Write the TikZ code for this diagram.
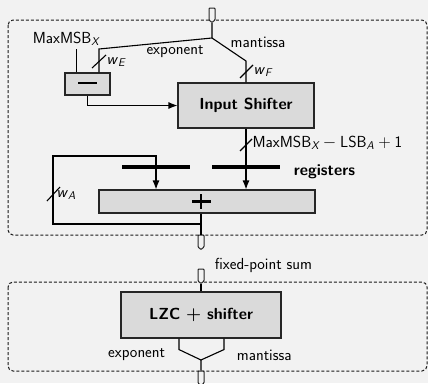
\documentclass[tikz,border=0pt]{standalone}
\usepackage{amsmath}
\usetikzlibrary{arrows.meta,shapes.symbols}

\begin{document}
\begin{tikzpicture}[
x=1pt, y=-1pt,
line width=1.1pt,
every node/.style={font=\sffamily\fontsize{16}{19}\selectfont},
boldtxt/.style={font=\sffamily\bfseries\boldmath\fontsize{16}{19}\selectfont},
blk/.style={draw=black!85, fill=boxgray, inner sep=0pt},
frame/.style={draw=black!90, line width=1pt, dash pattern=on 3pt off 2pt, rounded corners=5pt},
port/.style={draw=black!85, fill=bggray, shape=signal, signal to=south, signal pointer angle=100,
  minimum width=6pt, minimum height=12pt, inner sep=0pt, line width=1pt, rounded corners=0.8pt},
reg/.style={fill=black, minimum width=68pt, minimum height=4.5pt, inner sep=0pt},
arr/.style={-{Latex[length=9pt,width=7pt]}},
sym/.style={line width=2.8pt}
]
\definecolor{bggray}{RGB}{242,242,242}
\definecolor{boxgray}{RGB}{218,218,218}

\path[use as bounding box, fill=bggray] (0,0) rectangle (428,383);
\draw[frame] (8,20) rectangle (427,235);
\draw[frame] (8,282) rectangle (427,371);

\node[port] (inp) at (212,14) {};
\coordinate (split) at (212,38);
\coordinate (ebend) at (99,49);
\coordinate (mbend) at (246,61);
\node[blk, minimum width=45pt, minimum height=22pt] (sub) at (87.5,84) {};
\draw[sym] (78,83) -- (97,83);
\node[blk, boldtxt, minimum width=136pt, minimum height=45pt] (shift) at (246,105.5) {Input Shifter};
\node (maxmsb) at (66,39) {MaxMSB$_{\textit{X}}$};

\draw (inp.south) -- (split) -- (ebend) -- (ebend |- sub.north);
\draw (split) -- (mbend) -- (mbend |- shift.north);
\draw ([xshift=12pt]sub.north west) -- ++(0,-23);
\node (explbl) at (175,52) {exponent};
\node (manlbl) at (258,42) {mantissa};
\draw (92,68) -- (106,55);
\node[anchor=west, inner sep=1pt] (we) at (105,62) {\textit{w}$_{\textit{E}}$};
\draw (240,78) -- (253,65);
\node[anchor=west, inner sep=1pt] (wf) at (252,72) {\textit{w}$_{\textit{F}}$};
\draw[arr] (sub.south) |- (shift.west);

\node[blk, minimum width=216pt, minimum height=23pt] (add) at (207,201.5) {};
\coordinate (plusc) at (201,201.5);
\draw[sym] (192,201.5) -- (211,201.5) (201,194) -- (201,209);
\node[reg] (rega) at (156,167) {};
\node[reg] (regb) at (246,167) {};
\node[boldtxt, anchor=west] (reglbl) at (290,172) {registers};

\draw[arr] (shift.south) -- (shift.south |- add.north);
\draw (240,151) -- (252,139);
\node[anchor=west, inner sep=1pt] (wsum) at (251,143) {MaxMSB$_{\textit{X}}-{}$LSB$_{\textit{A}}+{}$1};

\node[port] (sumout) at (201,241) {};
\coordinate (fb) at (201,224);
\coordinate (fbtop) at (53,156);
\draw (plusc |- add.south) -- (sumout.north);
\draw[arr] (fb) -| (fbtop) -| (rega.center |- add.north);
\draw (47,201) -- (60,187);
\node[anchor=west, inner sep=1pt] (wa) at (55,195) {\textit{w}$_{\textit{A}}$};

\node[port] (sumin) at (201,275) {};
\node[anchor=west] (sumlbl) at (211,265) {fixed-point sum};
\node[blk, boldtxt, minimum width=160pt, minimum height=46pt] (lzc) at (201,315) {LZC $+$ shifter};
\draw (sumin.south) -- (lzc.north);
\coordinate (merge) at (201,360);
\node[port] (outp) at (201,377) {};
\draw ([xshift=-22pt]lzc.south) -- ++(0,11) -- (merge) -- (outp.north);
\draw ([xshift=23pt]lzc.south) -- ++(0,11) -- (merge);
\node[anchor=east] (lzcexp) at (169,355) {exponent};
\node[anchor=west] (lzcman) at (233,355) {mantissa};
\end{tikzpicture}
\end{document}
